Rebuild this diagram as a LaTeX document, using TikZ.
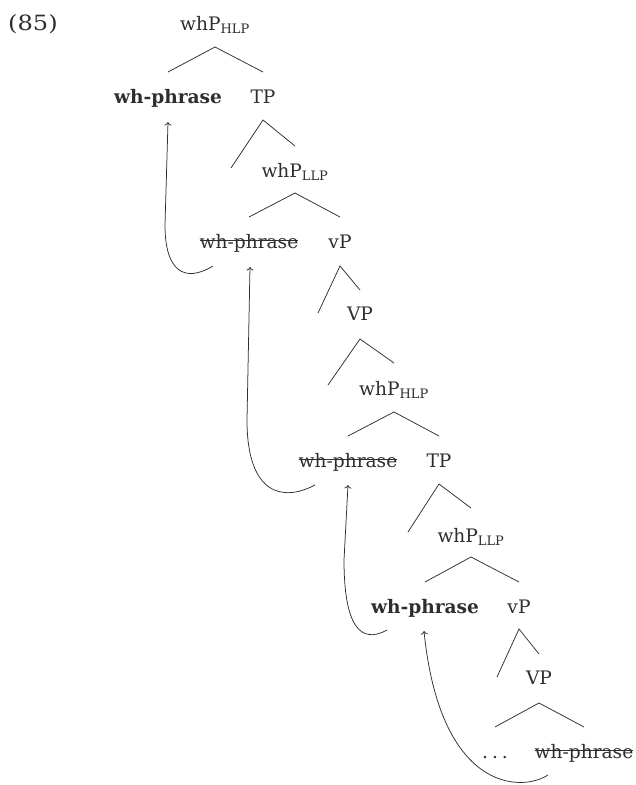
\documentclass[tikz,border=0pt]{standalone}
\usepackage{fontspec}
\setmainfont{DejaVu Serif}
\usetikzlibrary{arrows.meta}
\definecolor{ink}{HTML}{2E2E2E}
\newcommand\strk[1]{\setbox0\hbox{#1}\rlap{\rule[0.75ex]{\wd0}{0.8pt}}\box0}
\begin{document}
\begin{tikzpicture}[x=1pt,y=-1pt,
  every node/.style={anchor=base, inner sep=0pt, text=ink, font=\fontsize{18.6}{22}\selectfont},
  br/.style={draw=ink, line width=0.75pt},
  mv/.style={draw=ink, line width=0.75pt, -{To[length=3.5pt,width=7pt]}}]
\useasboundingbox (0,0) rectangle (635,785);
% labels
\node[anchor=base west, font=\fontsize{21}{24}\selectfont] (ex) at (8,30) {\scalebox{1.15}[1]{(85)}};
\node (t1) at (215,30) {whP\textsubscript{HLP}};
\node (w1) at (168,103) {\bfseries wh-phrase};
\node (tp1) at (263,103) {TP};
\node (l1) at (295,177) {whP\textsubscript{LLP}};
\node (w2) at (249,248) {\strk{wh-phrase}};
\node (vp1) at (340,248) {vP};
\node (VP1) at (360,320) {VP};
\node (h2) at (394,395) {whP\textsubscript{HLP}};
\node (w3) at (348,467) {\strk{wh-phrase}};
\node (tp2) at (439,467) {TP};
\node (l2) at (471,542) {whP\textsubscript{LLP}};
\node (w4) at (425,613) {\bfseries wh-phrase};
\node (vp2) at (519,613) {vP};
\node (VP2) at (539,684) {VP};
\node (dots) at (495,758) {.\hspace{4pt}.\hspace{4pt}.};
\node (w5) at (584,758) {\strk{wh-phrase}};
% empty branch ends
\coordinate (e1) at (231,168);
\coordinate (e2) at (318,313);
\coordinate (e3) at (328,385);
\coordinate (e4) at (408,532);
\coordinate (e5) at (497,677);
% branches
\draw[br] ([yshift=31pt]w1.base) -- ([yshift=-17pt]t1.base) -- ([yshift=31pt]tp1.base);
\draw[br] (e1) -- ([yshift=-17pt]tp1.base) -- ([yshift=31pt]l1.base);
\draw[br] ([yshift=31pt]w2.base) -- ([yshift=-16pt]l1.base) -- ([yshift=31pt]vp1.base);
\draw[br] (e2) -- ([yshift=-18pt]vp1.base) -- ([yshift=30pt]VP1.base);
\draw[br] (e3) -- ([yshift=-19pt]VP1.base) -- ([yshift=32pt]h2.base);
\draw[br] ([yshift=31pt]w3.base) -- ([yshift=-17pt]h2.base) -- ([yshift=31pt]tp2.base);
\draw[br] (e4) -- ([yshift=-17pt]tp2.base) -- ([yshift=34pt]l2.base);
\draw[br] ([yshift=31pt]w4.base) -- ([yshift=-15pt]l2.base) -- ([yshift=31pt]vp2.base);
\draw[br] (e5) -- ([yshift=-16pt]vp2.base) -- ([yshift=30pt]VP2.base);
\draw[br] ([yshift=31pt]dots.base) -- ([yshift=-19pt]VP2.base) -- ([yshift=31pt]w5.base);
% movement arrows
\draw[mv] ([xshift=-36pt,yshift=-18pt]w2.base) .. controls +(-28,17) and +(0,47) .. (165,225) -- ([yshift=-19pt]w1.base);
\draw[mv] ([xshift=-33pt,yshift=-18pt]w3.base) .. controls +(-32,17) and +(0,75) .. (247,420) -- ([xshift=1pt,yshift=-19pt]w2.base);
\draw[mv] ([xshift=-38pt,yshift=-17pt]w4.base) .. controls +(-27,15) and +(0,65) .. (344,560) -- ([yshift=-18pt]w3.base);
\draw[mv] ([xshift=-36pt,yshift=-17pt]w5.base) .. controls +(-28,18) and +(16,159) .. ([xshift=-1pt,yshift=-18pt]w4.base);
\end{tikzpicture}
\end{document}
